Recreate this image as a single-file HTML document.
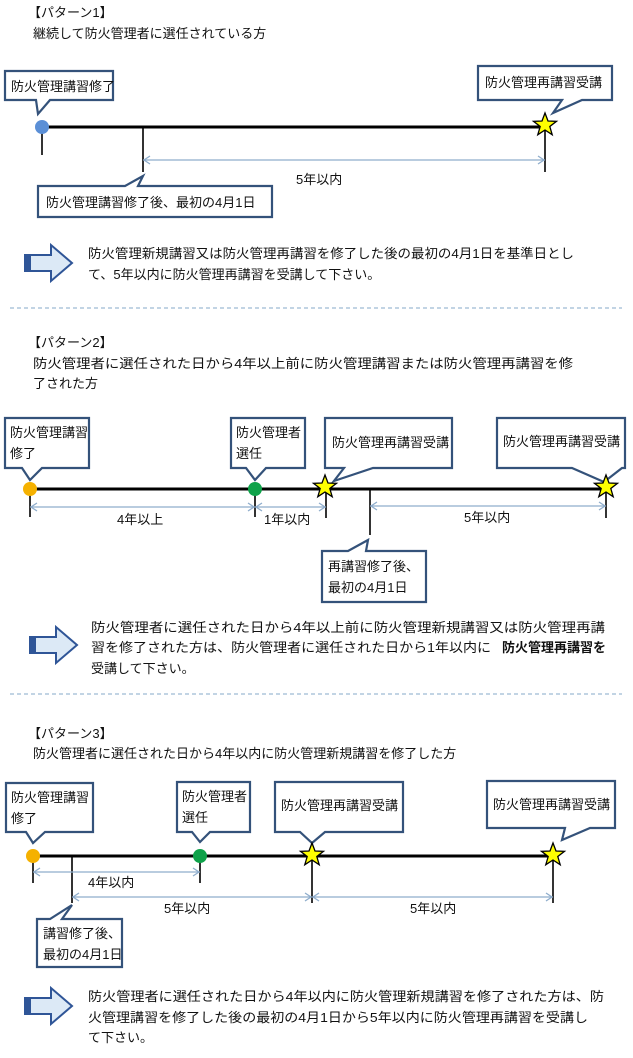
<!DOCTYPE html>
<html><head><meta charset="utf-8"><style>
html,body{margin:0;padding:0;background:#fff;}
svg{display:block;}
text{font-family:"Liberation Sans","Noto Sans CJK JP",sans-serif;font-size:13px;fill:#111;}
.cb{fill:#fff;stroke:#34527a;stroke-width:2.2;}
.tl{stroke:#000;stroke-width:3;}
.tk{stroke:#000;stroke-width:1.6;}
.dm{stroke:#8fadcc;stroke-width:1.3;fill:none;}
.st{fill:#ffff00;stroke:#000;stroke-width:1.3;}
.ar{fill:#dce9f6;stroke:#2f5597;stroke-width:2;}
.sep{stroke:#86a9c8;stroke-width:1;stroke-dasharray:4,3;}
</style></head><body>
<svg width="633" height="1058" viewBox="0 0 633 1058" xmlns="http://www.w3.org/2000/svg">
<defs>
<polygon id="star" points="0,-12 3,-4 11.5,-3.7 4.8,1.5 7.2,9.7 0,5 -7.2,9.7 -4.8,1.5 -11.5,-3.7 -3,-4"/>
<g id="arrow">
<path class="ar" d="M0 10 H26 V0 L47 18 L26 36 V26 H0 Z"/>
<rect x="0" y="10" width="6" height="16" fill="#2f5597"/>
</g>
</defs>

<!-- Section 1 -->
<text x="28" y="17">【パターン1】</text>
<text x="33" y="38">継続して防火管理者に選任されている方</text>

<path class="cb" d="M5 71 H113 V100 H50 L38 114 L36 100 H5 Z"/>
<text x="11" y="91">防火管理講習修了</text>
<path class="cb" d="M478 66 H612 V100 H582 L553 113 L562 100 H478 Z"/>
<text x="485" y="87">防火管理再講習受講</text>

<line class="tl" x1="42" y1="127" x2="545" y2="127"/>
<line class="tk" x1="42" y1="127" x2="42" y2="155"/>
<line class="tk" x1="143" y1="128" x2="143" y2="172"/>
<line class="tk" x1="545" y1="127" x2="545" y2="172"/>
<circle cx="42" cy="127" r="7" fill="#5b8fd6"/>
<use href="#star" class="st" transform="translate(545,125)"/>
<line class="dm" x1="143" y1="160" x2="545" y2="160"/>
<path class="dm" d="M150 156 L144 160 L150 164 M538 156 L544 160 L538 164"/>
<text x="296" y="184">5年以内</text>

<path class="cb" d="M38 186 H125 L143 176 L138 186 H272 V217 H38 Z"/>
<text x="46" y="207">防火管理講習修了後、最初の4月1日</text>

<use href="#arrow" transform="translate(25,245)"/>
<text x="88" y="258" textLength="486" lengthAdjust="spacingAndGlyphs">防火管理新規講習又は防火管理再講習を修了した後の最初の4月1日を基準日とし</text>
<text x="88" y="279">て、5年以内に防火管理再講習を受講して下さい。</text>

<line class="sep" x1="10" y1="308" x2="622" y2="308"/>

<!-- Section 2 -->
<text x="28" y="347">【パターン2】</text>
<text x="33" y="368" textLength="540" lengthAdjust="spacingAndGlyphs">防火管理者に選任された日から4年以上前に防火管理講習または防火管理再講習を修</text>
<text x="33" y="388">了された方</text>

<path class="cb" d="M5 418 H89 V468 H42 L30 480 L22 468 H5 Z"/>
<text x="10" y="437">防火管理講習</text>
<text x="10" y="458">修了</text>
<path class="cb" d="M231 418 H305 V468 H266 L255 480 L246 468 H231 Z"/>
<text x="236" y="437">防火管理者</text>
<text x="236" y="458">選任</text>
<path class="cb" d="M325 418 H452 V468 H373 L334 481 L344 468 H325 Z"/>
<text x="332" y="447">防火管理再講習受講</text>
<path class="cb" d="M497 418 H625 V468 H622 L604 482 L572 468 H497 Z"/>
<text x="503" y="446">防火管理再講習受講</text>

<line class="tl" x1="30" y1="489" x2="606" y2="489"/>
<line class="tk" x1="30" y1="489" x2="30" y2="517"/>
<line class="tk" x1="255" y1="489" x2="255" y2="517"/>
<line class="tk" x1="326" y1="489" x2="326" y2="518"/>
<line class="tk" x1="370" y1="489" x2="370" y2="535"/>
<line class="tk" x1="606" y1="489" x2="606" y2="518"/>
<circle cx="30" cy="489" r="7" fill="#f5b100"/>
<circle cx="255" cy="489" r="7" fill="#0fa24a"/>
<use href="#star" class="st" transform="translate(325,487)"/>
<use href="#star" class="st" transform="translate(606,487)"/>
<line class="dm" x1="30" y1="507" x2="255" y2="507"/>
<line class="dm" x1="255" y1="507" x2="326" y2="507"/>
<line class="dm" x1="370" y1="506" x2="606" y2="506"/>
<path class="dm" d="M37 503 L31 507 L37 511 M248 503 L254 507 L248 511 M262 503 L256 507 L262 511 M319 503 L325 507 L319 511 M377 502 L371 506 L377 510 M599 502 L605 506 L599 510"/>
<text x="117" y="524">4年以上</text>
<text x="264" y="524">1年以内</text>
<text x="464" y="522">5年以内</text>

<path class="cb" d="M322 551 H348 L368 540 L366 551 H426 V602 H322 Z"/>
<text x="328" y="571">再講習修了後、</text>
<text x="328" y="592">最初の4月1日</text>

<use href="#arrow" transform="translate(30,627)"/>
<text x="91" y="632" textLength="514" lengthAdjust="spacingAndGlyphs">防火管理者に選任された日から4年以上前に防火管理新規講習又は防火管理再講</text>
<text x="91" y="652" textLength="400" lengthAdjust="spacingAndGlyphs">習を修了された方は、防火管理者に選任された日から1年以内に</text>
<text x="502" y="652" font-weight="bold">防火管理再講習を</text>
<text x="91" y="673">受講して下さい。</text>

<line class="sep" x1="10" y1="694" x2="622" y2="694"/>

<!-- Section 3 -->
<text x="28" y="738">【パターン3】</text>
<text x="33" y="758">防火管理者に選任された日から4年以内に防火管理新規講習を修了した方</text>

<path class="cb" d="M6 783 H93 V832 H45 L33 843 L26 832 H6 Z"/>
<text x="11" y="802">防火管理講習</text>
<text x="11" y="823">修了</text>
<path class="cb" d="M177 782 H250 V832 H210 L200 842 L192 832 H177 Z"/>
<text x="182" y="801">防火管理者</text>
<text x="182" y="822">選任</text>
<path class="cb" d="M275 782 H403 V832 H325 L312 843 L300 832 H275 Z"/>
<text x="281" y="810">防火管理再講習受講</text>
<path class="cb" d="M487 781 H615 V828 H590 L562 840 L565 828 H487 Z"/>
<text x="493" y="809">防火管理再講習受講</text>

<line class="tl" x1="33" y1="856" x2="553" y2="856"/>
<line class="tk" x1="33" y1="856" x2="33" y2="883"/>
<line class="tk" x1="72" y1="856" x2="72" y2="903"/>
<line class="tk" x1="200" y1="856" x2="200" y2="883"/>
<line class="tk" x1="312" y1="856" x2="312" y2="903"/>
<line class="tk" x1="553" y1="856" x2="553" y2="903"/>
<circle cx="33" cy="856" r="7" fill="#f5b100"/>
<circle cx="200" cy="856" r="7" fill="#0fa24a"/>
<use href="#star" class="st" transform="translate(312,855)"/>
<use href="#star" class="st" transform="translate(553,855)"/>
<line class="dm" x1="33" y1="872" x2="200" y2="872"/>
<line class="dm" x1="72" y1="897" x2="312" y2="897"/>
<line class="dm" x1="312" y1="897" x2="553" y2="897"/>
<path class="dm" d="M40 868 L34 872 L40 876 M193 868 L199 872 L193 876 M79 893 L73 897 L79 901 M305 893 L311 897 L305 901 M319 893 L313 897 L319 901 M546 893 L552 897 L546 901"/>
<text x="88" y="887">4年以内</text>
<text x="164" y="913">5年以内</text>
<text x="410" y="913">5年以内</text>

<path class="cb" d="M37 919 H50 L72 905 L62 919 H122 V967 H37 Z"/>
<text x="43" y="938">講習修了後、</text>
<text x="43" y="959">最初の4月1日</text>

<use href="#arrow" transform="translate(25,988)"/>
<text x="88" y="1001" textLength="516" lengthAdjust="spacingAndGlyphs">防火管理者に選任された日から4年以内に防火管理新規講習を修了された方は、防</text>
<text x="88" y="1022" textLength="500" lengthAdjust="spacingAndGlyphs">火管理講習を修了した後の最初の4月1日から5年以内に防火管理再講習を受講し</text>
<text x="88" y="1042">て下さい。</text>
</svg>
</body></html>
